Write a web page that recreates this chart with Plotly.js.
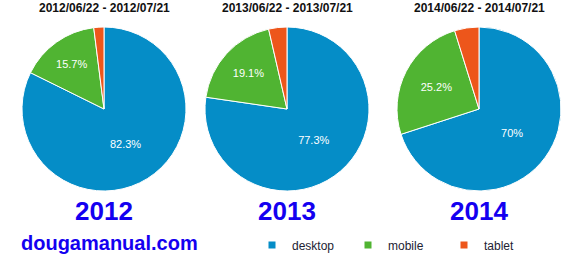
<!DOCTYPE html>
<html>
<head>
<meta charset="utf-8">
<script src="https://cdn.plot.ly/plotly-3.0.1.min.js"></script>
<style>html,body{margin:0;padding:0;background:#fff;}#chart{width:579px;height:260px;}</style>
</head>
<body>
<div id="chart"></div>
<script>
const categories = ['desktop', 'mobile', 'tablet'];
const years = ['2012', '2013', '2014'];
const periods = ['2012/06/22 - 2012/07/21', '2013/06/22 - 2013/07/21', '2014/06/22 - 2014/07/21'];
const share2012 = [82.3, 15.7, 2.0];
const share2013 = [77.3, 19.1, 3.6];
const share2014 = [70.0, 25.2, 4.8];
const siteName = 'dougamanual.com';

const colors = ['#058dc7', '#50b432', '#ed561b'];
const W = 579, H = 260;
const centersX = [104, 287, 479];
const centerY = 109;
const R = 82;
const shares = [share2012, share2013, share2014];

const data = shares.map((vals, i) => ({
  type: 'pie',
  labels: categories,
  values: vals,
  sort: false,
  direction: 'clockwise',
  rotation: 0,
  marker: {colors: colors, line: {color: '#ffffff', width: 1}},
  texttemplate: ['%{percent}', '%{percent}', ''],
  textposition: 'inside',
  insidetextorientation: 'horizontal',
  textfont: {family: 'Arial, Liberation Sans, sans-serif', size: 11, color: '#ffffff'},
  hoverinfo: 'label+percent',
  showlegend: false,
  domain: {
    x: [(centersX[i] - R) / W, (centersX[i] + R) / W],
    y: [(H - centerY - R) / H, (H - centerY + R) / H]
  }
}));

// legend entries (small square keys) for the three categories
categories.forEach((c, k) => {
  data.push({
    type: 'scatter', mode: 'markers', x: [null], y: [null], name: c,
    marker: {symbol: 'square', size: 7, color: colors[k]},
    showlegend: true, hoverinfo: 'skip'
  });
});

const annotations = [];
periods.forEach((p, i) => {
  annotations.push({
    text: '<b>' + p + '</b>', x: centersX[i] / W, y: 1 - 8 / H,
    xref: 'paper', yref: 'paper', xanchor: 'center', yanchor: 'middle', showarrow: false,
    font: {family: 'Arial, Liberation Sans, sans-serif', size: 12, color: '#111111'}
  });
  annotations.push({
    text: '<b>' + years[i] + '</b>', x: centersX[i] / W, y: 1 - 211 / H,
    xref: 'paper', yref: 'paper', xanchor: 'center', yanchor: 'middle', showarrow: false,
    font: {family: 'Arial, Liberation Sans, sans-serif', size: 26, color: '#1400f0'}
  });
});
annotations.push({
  text: '<b>' + siteName + '</b>', x: 19 / W, y: 1 - 243 / H,
  xref: 'paper', yref: 'paper', xanchor: 'left', yanchor: 'middle', showarrow: false,
  font: {family: 'Arial, Liberation Sans, sans-serif', size: 20, color: '#1400f0'}
});

const layout = {
  width: W, height: H,
  margin: {l: 0, r: 0, t: 0, b: 0},
  paper_bgcolor: '#ffffff',
  plot_bgcolor: 'rgba(0,0,0,0)',
  xaxis: {visible: false, showgrid: false, zeroline: false},
  yaxis: {visible: false, showgrid: false, zeroline: false},
  annotations: annotations,
  legend: {
    orientation: 'h', x: 252 / W, y: 1 - 245 / H, xanchor: 'left', yanchor: 'middle',
    entrywidth: 51, entrywidthmode: 'pixels',
    font: {family: 'Arial, Liberation Sans, sans-serif', size: 12, color: '#222233'},
    itemwidth: 30, itemsizing: 'trace', traceorder: 'normal', bgcolor: 'rgba(0,0,0,0)'
  }
};

Plotly.newPlot('chart', data, layout, {displayModeBar: false, staticPlot: true});
</script>
</body>
</html>
